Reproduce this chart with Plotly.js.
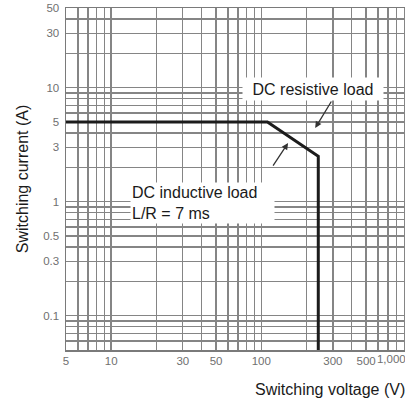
<!DOCTYPE html>
<html>
<head>
<meta charset="utf-8">
<script src="https://cdn.plot.ly/plotly-3.0.1.min.js"></script>
<style>
html, body { margin: 0; padding: 0; overflow: hidden; background: #fff; }
#chart { width: 420px; height: 403px; }
</style>
</head>
<body>
<div id="chart"></div>
<script>
// ---- data ----
const voltage = [5, 110, 240, 240];        // V
const current = [5, 5, 2.5, 0.05];          // A

const xLabelVals = [5, 10, 30, 50, 100, 300, 500];
const xLabelText = ['5', '10', '30', '50', '100', '300', '500'];
const xEdgeVals = [1000];
const xEdgeText = ['1,000'];
const yLabelVals = [0.1, 0.3, 0.5, 1, 3, 5, 10, 30, 50];
const yLabelText = ['0.1', '0.3', '0.5', '1', '3', '5', '10', '30', '50'];

const xMin = 5, xMax = 1075;
const yMin = 0.05, yMax = 50;

// log grid: every 1..9 multiple per decade
function logGrid(lo, hi) {
  const out = [];
  for (let k = Math.floor(Math.log10(lo)); k <= Math.ceil(Math.log10(hi)); k++) {
    for (let m = 1; m <= 9; m++) {
      const v = Number((m * Math.pow(10, k)).toPrecision(6));
      if (v >= lo * 0.999 && v <= hi * 1.001) out.push(v);
    }
  }
  return out;
}
function labelsFor(vals, labVals, labText) {
  return vals.map(v => {
    const i = labVals.findIndex(l => Math.abs(l - v) / v < 1e-6);
    return i >= 0 ? labText[i] : '';
  });
}

const xGrid = logGrid(xMin, xMax);
const yGrid = logGrid(yMin, yMax);

const FONT = 'Liberation Sans, Arial, sans-serif';
const tickFont = { family: FONT, size: 11.5, color: '#707070' };
const gridColor = '#858585';

const traces = [
  {
    x: voltage, y: current, type: 'scatter', mode: 'lines',
    line: { color: '#1c1c1c', width: 3 },
    hoverinfo: 'skip', showlegend: false
  },
  {
    x: [], y: [], type: 'scatter', mode: 'lines', xaxis: 'x2',
    hoverinfo: 'skip', showlegend: false
  }
];

const layout = {
  width: 420, height: 403,
  margin: { l: 66, r: 4, t: 8, b: 53 },
  paper_bgcolor: '#ffffff', plot_bgcolor: '#ffffff',
  showlegend: false,
  font: { family: FONT, color: '#1a1a1a' },
  xaxis: {
    type: 'log', range: [Math.log10(xMin), Math.log10(xMax)],
    tickmode: 'array', tickvals: xGrid, ticktext: labelsFor(xGrid, xLabelVals, xLabelText),
    showgrid: true, gridcolor: gridColor, gridwidth: 1.4,
    showline: true, mirror: true, linecolor: '#7a7a7a', linewidth: 1.5,
    ticks: '', tickfont: tickFont, zeroline: false, fixedrange: true
  },
  xaxis2: {
    type: 'log', range: [Math.log10(xMin), Math.log10(xMax)],
    overlaying: 'x', anchor: 'y', side: 'bottom',
    tickmode: 'array', tickvals: xEdgeVals, ticktext: xEdgeText,
    showgrid: false, showline: false, zeroline: false, ticks: '',
    tickfont: tickFont, ticklabelshift: -20, fixedrange: true
  },
  yaxis: {
    type: 'log', range: [Math.log10(yMin), Math.log10(yMax)],
    tickmode: 'array', tickvals: yGrid, ticktext: labelsFor(yGrid, yLabelVals, yLabelText),
    showgrid: true, gridcolor: gridColor, gridwidth: 1.4,
    showline: true, mirror: true, linecolor: '#7a7a7a', linewidth: 1.5,
    ticks: '', tickfont: tickFont, ticklabelstandoff: 3, zeroline: false, fixedrange: true,
    title: { text: 'Switching current (A)', font: { family: FONT, size: 16, color: '#1a1a1a' }, standoff: 10 }
  },
  annotations: [
    {
      xref: 'paper', yref: 'paper', x: 0.975, y: -0.115,
      xanchor: 'right', yanchor: 'middle', showarrow: false,
      text: 'Switching voltage (V)', font: { family: FONT, size: 16, color: '#1a1a1a' }
    },
    {
      x: Math.log10(222), y: Math.log10(9.74), xref: 'x', yref: 'y',
      showarrow: false, text: 'DC resistive load',
      font: { family: FONT, size: 16, color: '#1a1a1a' },
      bgcolor: '#ffffff', borderpad: 2, width: 136, height: 18
    },
    {
      x: Math.log10(229), y: Math.log10(4.43), xref: 'x', yref: 'y',
      ax: 17, ay: -28, text: '', showarrow: true,
      arrowhead: 2, arrowsize: 1, arrowwidth: 1.3, arrowcolor: '#333'
    },
    {
      x: Math.log10(151), y: Math.log10(3.27), xref: 'x', yref: 'y',
      ax: -16, ay: 24, text: '', showarrow: true,
      arrowhead: 2, arrowsize: 1, arrowwidth: 1.3, arrowcolor: '#333'
    },
    {
      x: Math.log10(13.4), y: Math.log10(1.5), xref: 'x', yref: 'y',
      xanchor: 'left', yanchor: 'top', showarrow: false, align: 'left',
      text: 'DC inductive load<br>L/R = 7 ms',
      font: { family: FONT, size: 16, color: '#1a1a1a' },
      bgcolor: '#ffffff', borderpad: 1, width: 141
    }
  ]
};

Plotly.newPlot('chart', traces, layout, { displayModeBar: false, staticPlot: true });
</script>
</body>
</html>
